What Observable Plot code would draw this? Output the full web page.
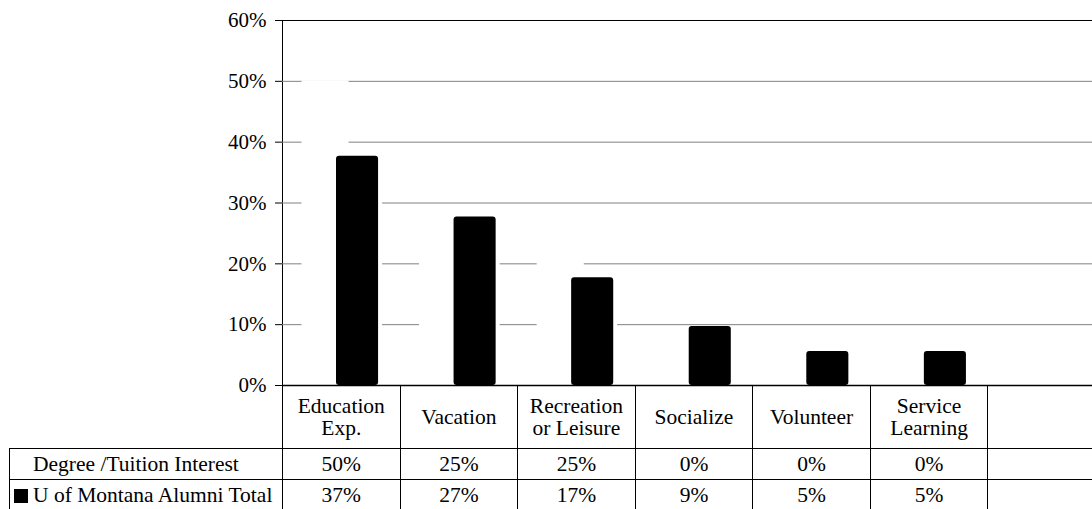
<!DOCTYPE html>
<html><head><meta charset="utf-8">
<script src="https://cdn.jsdelivr.net/npm/d3@7"></script>
<script src="https://cdn.jsdelivr.net/npm/@observablehq/plot@0.6"></script>
<style>
html,body{margin:0;padding:0;overflow:hidden;background:#fff;}
#wrap{position:relative;width:1092px;height:509px;overflow:hidden;font-family:"Liberation Serif","Times New Roman",serif;color:#000;}
#chart{position:absolute;left:0;top:0;width:1105px;}
#chart svg{max-width:none !important;}
#tbl{position:absolute;left:9px;top:385px;border-collapse:collapse;table-layout:fixed;font-size:21.5px;width:1096px;font-family:inherit;}
#tbl td{border:1px solid #000;padding:0;text-align:center;vertical-align:middle;white-space:nowrap;font-family:inherit;}
#tbl tr.hdr td{border-top:none;height:63px;line-height:22px;}
#tbl tr.hdr td.corner{border-left:none;}
#tbl tr.row td{height:30px;line-height:22px;}
#tbl td.lab{text-align:left;padding-left:4px;}
.key{display:inline-block;width:14px;height:14px;background:#000;margin-right:5px;vertical-align:-1px;}
.key.white{background:#fff;}
</style>
</head><body>
<div id="wrap"><div id="chart"></div><table id="tbl"></table></div>
<script>
const categories = ["Education\nExp.", "Vacation", "Recreation\nor Leisure", "Socialize", "Volunteer", "Service\nLearning"];
const degreeValues = [50, 25, 25, 0, 0, 0];
const alumniValues = [37.7, 27.7, 17.7, 9.7, 5.6, 5.6];
const degreeLabels = ["50%", "25%", "25%", "0%", "0%", "0%"];
const alumniLabels = ["37%", "27%", "17%", "9%", "5%", "5%"];
const seriesNames = ["Degree /Tuition Interest", "U of Montana Alumni Total"];
const yTicks = [0, 10, 20, 30, 40, 50, 60];
const gridTicks = [10, 20, 30, 40, 50];

const data = categories.map((c, i) => ({cat: c, degree: degreeValues[i], alumni: alumniValues[i]}));
const xDomain = [...categories, " "];

const chart = Plot.plot({
  width: 1105,
  height: 386,
  marginLeft: 282,
  marginRight: 0,
  marginTop: 20,
  marginBottom: 1,
  style: {fontFamily: "'Liberation Serif', 'Times New Roman', serif", fontSize: "21px", background: "white", overflow: "visible", maxWidth: "none"},
  x: {domain: xDomain, padding: 0, round: false, axis: null},
  y: {domain: [0, 60], ticks: yTicks, tickFormat: d => d + "%", tickSize: 7, tickPadding: 9, line: true, label: null},
  marks: [
    Plot.ruleY(gridTicks, {stroke: "#808080", strokeWidth: 1}),
    Plot.barY(data, {x: "cat", y: "degree", fill: "white", stroke: "white", strokeWidth: 1, insetLeft: 20, insetRight: 51.5}),
    Plot.barY(data, {x: "cat", y: "alumni", fill: "white", insetLeft: 54, insetRight: 17.5}),
    Plot.barY(data, {x: "cat", y: "alumni", fill: "black", insetLeft: 54, insetRight: 21.5, rx: 3}),
    Plot.ruleY([60], {stroke: "black", strokeWidth: 1}),
    Plot.ruleY([0], {stroke: "black", strokeWidth: 1.5})
  ]
});
document.getElementById("chart").appendChild(chart);

// data table below the chart
const tbl = d3.select("#tbl");
const cg = tbl.append("colgroup");
cg.append("col").style("width", "273px");
xDomain.forEach(() => cg.append("col").style("width", (823 / 7) + "px"));

const hdr = tbl.append("tr").attr("class", "hdr");
hdr.append("td").attr("class", "corner");
xDomain.forEach(c => hdr.append("td").html(c.split("\n").join("<br>")));

const rows = [[seriesNames[0], degreeLabels, "key white"], [seriesNames[1], alumniLabels, "key"]];
rows.forEach(([name, labels, keyClass]) => {
  const tr = tbl.append("tr").attr("class", "row");
  const lab = tr.append("td").attr("class", "lab");
  lab.append("span").attr("class", keyClass);
  lab.append("span").text(name);
  labels.forEach(l => tr.append("td").text(l));
  tr.append("td");
});
</script>
</body></html>
